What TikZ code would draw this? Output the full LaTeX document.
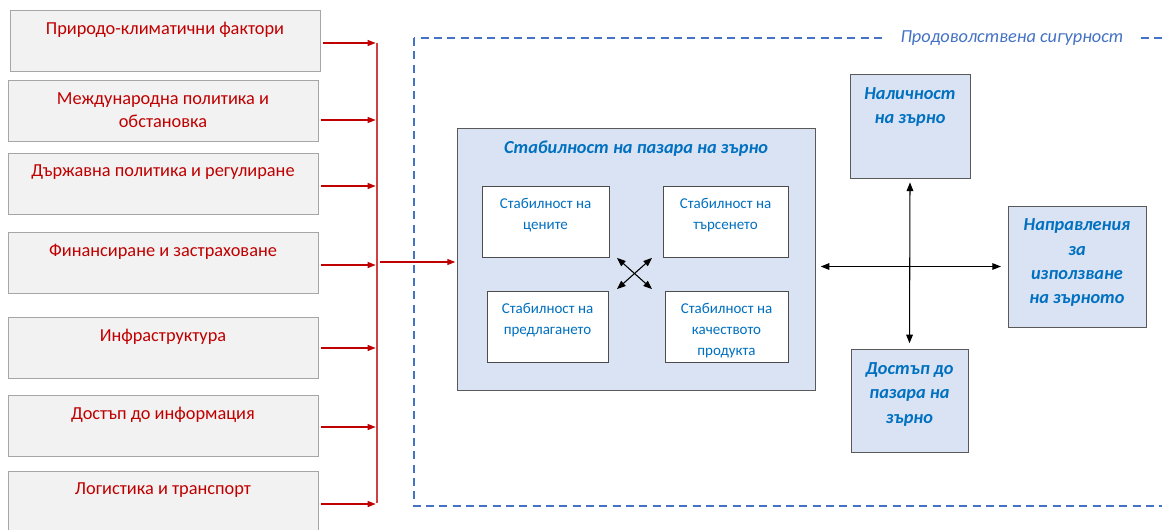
\documentclass[tikz,border=0pt]{standalone}
\usepackage{fontspec}
\setmainfont{Carlito}
\usetikzlibrary{arrows.meta,positioning}
\definecolor{factor_red}{HTML}{C00000}
\definecolor{grain_blue}{HTML}{0070C0}
\definecolor{frame_blue}{HTML}{4472C4}
\definecolor{pale_blue}{HTML}{DAE3F3}
\definecolor{pale_gray}{HTML}{F2F2F2}
\begin{document}
\begin{tikzpicture}[x=0.75pt, y=-0.75pt, shorten >=1pt, >={Triangle[length=6pt,width=4.5pt]}]
    \tikzstyle{factor_box} = [rectangle,draw=black!35,fill=pale_gray,minimum width=232.5pt,minimum height=45.75pt]
    \tikzstyle{factor_text} = [text=factor_red,align=center,font=\fontsize{13.75}{17.25}\selectfont]
    \tikzstyle{market_box} = [rectangle,draw=black!65,fill=pale_blue,semithick]
    \tikzstyle{inner_box} = [rectangle,draw=black!70,fill=white,minimum height=53.25pt]
    \tikzstyle{inner_text} = [text=grain_blue,align=center,font=\fontsize{11.25}{15.75}\selectfont]
    \tikzstyle{head_text} = [text=grain_blue,align=center,font=\fontsize{13.75}{18.25}\selectfont\bfseries\itshape]
    \tikzstyle{red_arrow} = [draw=factor_red, ->, line width=0.9pt]
    \tikzstyle{black_arrow} = [draw=black, {Triangle[length=6.5pt,width=5pt]}-{Triangle[length=6.5pt,width=5pt]}, shorten <=1pt, line width=0.8pt]
    \useasboundingbox (0,0) rectangle (1162,529);

    % frame
    \draw[draw=frame_blue, line width=1.3pt, dash pattern=on 6pt off 4pt] (414,38) rectangle (1180,506);
    \node[text=frame_blue, fill=white, inner xsep=12pt, font=\fontsize{13.75}{16}\selectfont\itshape] (fs) at (1012,38) {Продоволствена сигурност};

    % factors
    \node[factor_box] (f1) at (165,41) {};
    \node[factor_box] (f2) at (163,111) {};
    \node[factor_box] (f3) at (163,183.5) {};
    \node[factor_box] (f4) at (163,262.5) {};
    \node[factor_box] (f5) at (163,347.5) {};
    \node[factor_box] (f6) at (163,426) {};
    \node[factor_box, minimum height=52pt] (f7) at (163,506) {};

    \node[factor_text, below=5.5pt] at (f1.north) {Природо-климатични фактори};
    \node[factor_text, below=5.5pt] at (f2.north) {Международна политика и\\обстановка};
    \node[factor_text, below=5.5pt] at (f3.north) {Държавна политика и регулиране};
    \node[factor_text, below=5.5pt] at (f4.north) {Финансиране и застраховане};
    \node[factor_text, below=5.5pt] at (f5.north) {Инфраструктура};
    \node[factor_text, below=5.5pt] at (f6.north) {Достъп до информация};
    \node[factor_text, below=5.5pt] at (f7.north) {Логистика и транспорт};

    % market
    \node[market_box, minimum width=268.5pt, minimum height=196.5pt] (m) at (636,259) {};
    \node[head_text, below=6.5pt] at (m.north) {Стабилност на пазара на зърно};
    \node[inner_box, minimum width=95.25pt] (a) at (545.5,221.5) {};
    \node[inner_box, minimum width=93.75pt] (b) at (725.5,221.5) {};
    \node[inner_box, minimum width=90.75pt] (c) at (547.5,326.5) {};
    \node[inner_box, minimum width=92.25pt] (d) at (726.5,326.5) {};
    \node[inner_text, below=6pt] at (a.north) {Стабилност на\\цените};
    \node[inner_text, below=6pt] at (b.north) {Стабилност на\\търсенето};
    \node[inner_text, below=6pt] at (c.north) {Стабилност на\\предлагането};
    \node[inner_text, below=6pt] at (d.north) {Стабилност на\\качеството\\продукта};
    \coordinate (x1) at (616,257);
    \coordinate (x2) at (653,290);
    \coordinate (x3) at (653,257);
    \coordinate (x4) at (616,290);

    % grain
    \node[market_box, minimum width=90pt, minimum height=78pt] (r1) at (910,126) {};
    \node[market_box, minimum width=103.5pt, minimum height=90.75pt] (r2) at (1077,266.5) {};
    \node[market_box, minimum width=87.75pt, minimum height=77.25pt] (r3) at (909.5,400.5) {};
    \node[head_text, below=7pt] at (r1.north) {Наличност\\на зърно};
    \node[head_text, below=6.5pt] at (r2.north) {Направления\\за\\използване\\на зърното};
    \node[head_text, below=7pt] at (r3.north) {Достъп до\\пазара на\\зърно};

    % bus
    \coordinate (bus1) at (377,43);
    \coordinate (bus2) at (377,120);
    \coordinate (bus3) at (377,186);
    \coordinate (bus4) at (377,265);
    \coordinate (bus5) at (377,348);
    \coordinate (bus6) at (377,427);
    \coordinate (bus7) at (377,504);
    \coordinate (bus0) at (380,262);
    \draw[draw=factor_red!75, line width=0.8pt] (bus1) -- (bus7);

    \draw[red_arrow] ([xshift=2pt]f1.east |- bus1) -- (bus1);
    \draw[red_arrow] ([xshift=2pt]f2.east |- bus2) -- (bus2);
    \draw[red_arrow] ([xshift=2pt]f3.east |- bus3) -- (bus3);
    \draw[red_arrow] ([xshift=2pt]f4.east |- bus4) -- (bus4);
    \draw[red_arrow] ([xshift=2pt]f5.east |- bus5) -- (bus5);
    \draw[red_arrow] ([xshift=2pt]f6.east |- bus6) -- (bus6);
    \draw[red_arrow] ([xshift=2pt]f7.east |- bus7) -- (bus7);
    \draw[red_arrow] (bus0) -- (bus0 -| m.west);

    \draw[black_arrow] (x1) -- (x2);
    \draw[black_arrow] (x3) -- (x4);
    \draw[black_arrow, shorten <=4pt, shorten >=5pt] (m.east |- r2.west) -- (r2.west);
    \draw[black_arrow, shorten <=3pt, shorten >=4pt] (r1.south) -- (r3.north);
\end{tikzpicture}
\end{document}
